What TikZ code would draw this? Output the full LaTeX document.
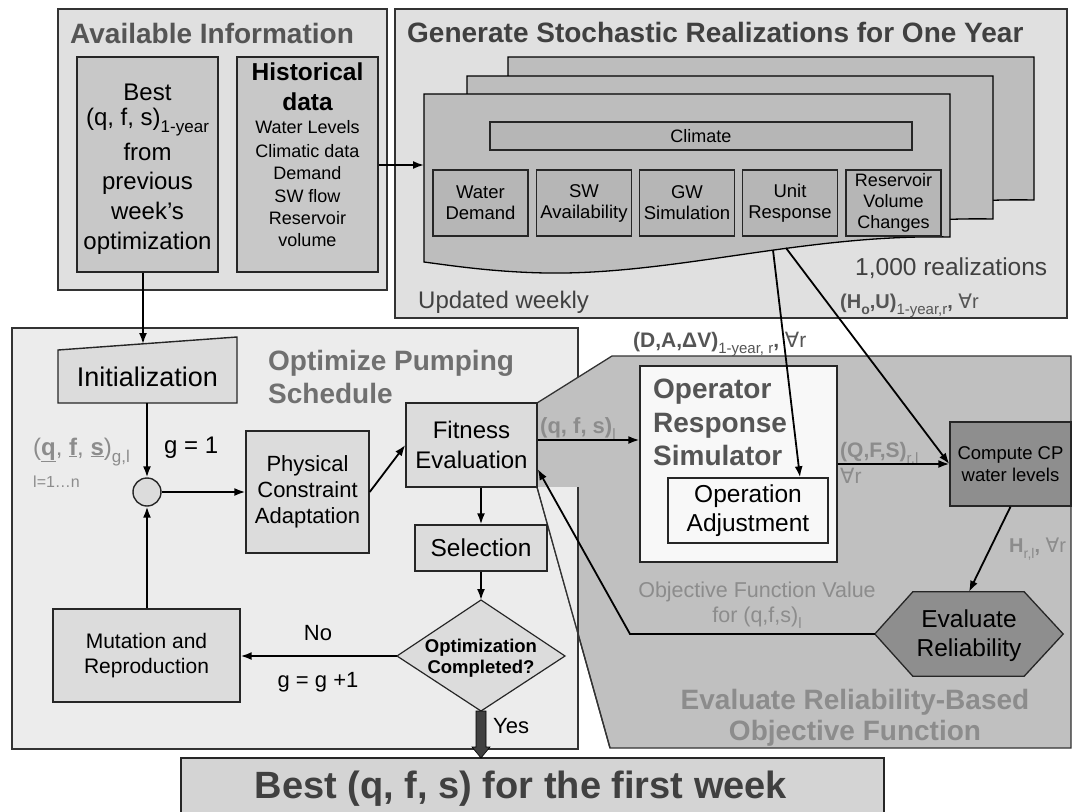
\documentclass[tikz,border=0pt]{standalone}
\usepackage{fontspec}
\setmainfont{Liberation Sans}
\newfontfamily\dv{DejaVu Sans}
\usetikzlibrary{arrows.meta}
\definecolor{pA}{HTML}{E0E0E0}
\definecolor{pO}{HTML}{ECECEC}
\definecolor{pE}{HTML}{C0C0C0}
\definecolor{bA}{HTML}{C8C8C8}
\definecolor{sheetc}{HTML}{BDBDBD}
\definecolor{sbox}{HTML}{B6B6B6}
\definecolor{lbox}{HTML}{DCDCDC}
\definecolor{wbox}{HTML}{F8F8F8}
\definecolor{dbox}{HTML}{8E8E8E}
\definecolor{fbox}{HTML}{D4D4D4}
\definecolor{tDark}{HTML}{404040}
\definecolor{tMid}{HTML}{555555}
\definecolor{tGray}{HTML}{707070}
\definecolor{tLight}{HTML}{8C8C8C}
\newcommand\fs[2]{\fontsize{#1pt}{#2pt}\selectfont}
\newcommand\sbs[2]{\raisebox{-0.3em}{\fontsize{#1pt}{#1pt}\selectfont #2}}
\begin{document}
\begin{tikzpicture}[x=1pt,y=-1pt,
  panel/.style={draw=black!80,line width=1.3pt},
  box/.style={draw=black!85,line width=1.4pt,inner sep=0pt,align=center},
  arr/.style={-{Latex[length=11pt,width=8pt]},line width=1.8pt},
  lbl/.style={inner sep=0pt,anchor=base west}]
\useasboundingbox (0,0) rectangle (1072,812);
\fill[white] (0,0) rectangle (1072,812);

% ---------- Available Information ----------
\draw[panel,fill=pA] (58,9) rectangle (387,290);
\node[lbl,text=tMid,font=\fs{28}{30}\bfseries] (tAvail) at (70,43) {Available Information};
\node[box,fill=bA,minimum width=141pt,minimum height=215pt] (best) at (147.5,164.5) {};
\begin{scope}[every node/.style={inner sep=0pt,anchor=base,font=\fs{24}{26}}]
\node (b1) at (147.5,100) {Best};
\node (b2) at (147.5,125) {(q, f, s)\sbs{17}{1-year}};
\node (b3) at (147.5,160) {from};
\node (b4) at (147.5,189) {previous};
\node (b5) at (147.5,219) {week’s};
\node (b6) at (147.5,249) {optimization};
\end{scope}
\node[box,fill=bA,minimum width=141pt,minimum height=215pt] (hist) at (307.5,164.5) {};
\begin{scope}[every node/.style={inner sep=0pt,anchor=base,font=\fs{18}{20}}]
\node[font=\fs{24.5}{26}\bfseries] (h1) at (307.5,80) {Historical};
\node[font=\fs{24.5}{26}\bfseries] (h2) at (307.5,110) {data};
\node (h3) at (307.5,133) {Water Levels};
\node (h4) at (307.5,157) {Climatic data};
\node (h5) at (307.5,179) {Demand};
\node (h6) at (307.5,202) {SW flow};
\node (h7) at (307.5,224) {Reservoir};
\node (h8) at (307.5,246) {volume};
\end{scope}

% ---------- Generate Stochastic Realizations ----------
\draw[panel,fill=pA] (395,9) rectangle (1067,318);
\node[lbl,text=tDark,font=\fs{28}{30}\bfseries] (tGen) at (407,42) {Generate Stochastic Realizations for One Year};
\foreach \dx/\dy in {84/-37,43/-18,0/0}{
  \draw[line width=1.3pt,fill=sheetc,shift={(424+\dx,94+\dy)}]
    (0,0) -- (526,0) -- (526,143) .. controls (380,140) and (250,181) .. (122,179)
    .. controls (70,178) and (30,172) .. (0,168) -- cycle;
}
\coordinate (frontL) at (424,165);
\coordinate (frontA) at (773,250);
\coordinate (frontB) at (786,248);
\node[box,fill=sbox,minimum width=422pt,minimum height=28pt,font=\fs{18}{20}] (clim) at (701,136) {Climate};
\begin{scope}[every node/.style={box,fill=sbox,minimum width=95pt,minimum height=66pt,font=\fs{18.5}{21}}]
\node (wd) at (480.5,203) {Water\\Demand};
\node (sw) at (584,203) {SW\\Availability};
\node (gw) at (687,203) {GW\\Simulation};
\node (ur) at (790,203) {Unit\\Response};
\node[font=\fs{18}{21}] (rv) at (893.5,203) {Reservoir\\Volume\\Changes};
\end{scope}
\node[lbl,text=tDark,font=\fs{24.5}{26}] (realz) at (855,275) {1,000 realizations};
\node[lbl,text=tDark,font=\fs{24}{26}] (upd) at (418,308) {Updated weekly};
\node[lbl,text=tMid,font=\fs{20}{22}\bfseries] (hou) at (840,308) {(H\sbs{14}{o},U)\sbs{15}{\mdseries 1-year,r}, {\mdseries\dv ∀}\mdseries r};

% ---------- Optimize panel ----------
\draw[panel,fill=pO] (12,328) rectangle (578,749);

% ---------- Evaluate panel ----------
\draw[panel,fill=pE] (612,356) -- (1071,356) -- (1071,748) -- (610,748) -- (537,487) -- (537,403) -- cycle;
% optimize panel shows in front below the fitness box
\fill[pO] (537.7,487) -- (577.3,487) -- (577.3,633) -- cycle;
\draw[line width=1.3pt,draw=black!80] (578,487) -- (578,749);
\draw[line width=1.3pt,draw=black!80] (537,487) -- (610,748);

\node[lbl,text=tGray,font=\fs{28}{30}\bfseries] (tOpt1) at (268,370) {Optimize Pumping};
\node[lbl,text=tGray,font=\fs{28}{30}\bfseries] (tOpt2) at (268,403) {Schedule};

% Initialization (manual input shape)
\node[inner sep=0pt,minimum width=179pt,minimum height=53pt] (init) at (147.5,376.5) {};
\draw[line width=1.4pt,draw=black!85,fill=lbox] (58,350) -- (237,337) -- (237,403) -- (58,403) -- cycle;
\node[inner sep=0pt,anchor=base,font=\fs{27}{29}] (initT) at (147.5,386) {Initialization};
\coordinate (initTop) at (143,344);

\node[lbl,text=tLight,font=\fs{24}{26}] (qfsg) at (33,455) {(\underline{\textbf{q}}, \underline{\textbf{f}}, \underline{\textbf{s}})\sbs{17}{g,l}};
\node[lbl,text=tLight,font=\fs{16}{18}] (lrng) at (33,487) {l=1…n};
\node[lbl,font=\fs{24}{26}] (g1) at (164,453) {g = 1};

\node[circle,draw=black!85,line width=1.4pt,fill=lbox,minimum size=28pt,inner sep=0pt] (cir) at (147,492) {};
\node[box,fill=lbox,minimum width=123pt,minimum height=122pt,font=\fs{22}{26}] (phys) at (307.5,492) {Physical\\Constraint\\Adaptation};
\node[box,fill=lbox,minimum width=131pt,minimum height=84pt,font=\fs{24}{30}] (fit) at (471.5,445) {Fitness\\Evaluation};
\node[box,fill=lbox,minimum width=132pt,minimum height=46pt,font=\fs{24.5}{26}] (sel) at (481,548) {Selection};

% diamond
\draw[line width=1.2pt,draw=black!85,fill=lbox] (481,600) -- (565,656) -- (481,711) -- (397,656) -- cycle;
\coordinate (diaT) at (481,600);
\coordinate (diaL) at (397,656);
\coordinate (diaB) at (481,711);
\node[inner sep=0pt,align=center,font=\fs{18.5}{21}\bfseries] (dia) at (481,658) {Optimization\\Completed?};

\node[box,fill=lbox,minimum width=187pt,minimum height=93pt,font=\fs{21}{25}] (mut) at (146.5,655.5) {Mutation and\\Reproduction};
\node[inner sep=0pt,font=\fs{22}{24}] (no) at (318,633) {No};
\node[inner sep=0pt,font=\fs{22}{24}] (gg) at (318,682) {g = g +1};
\node[lbl,font=\fs{22}{24}] (yes) at (493,733) {Yes};

% final box
\node[box,fill=fbox,minimum width=703pt,minimum height=62pt] (final) at (532.5,789) {};
\node[inner sep=0pt,anchor=base,text=tDark,font=\fs{38}{40}\bfseries] (finalT) at (521,798) {Best (q, f, s) for the first week};
\coordinate (finalTop) at (481,758);

% ---------- Evaluate contents ----------
\node[box,fill=wbox,minimum width=197pt,minimum height=196pt] (ors) at (738.5,464) {};
\begin{scope}[every node/.style={lbl,text=tMid,font=\fs{28}{30}\bfseries}]
\node (o1) at (653,398) {Operator};
\node (o2) at (653,432) {Response};
\node (o3) at (653,465) {Simulator};
\end{scope}
\node[box,fill=wbox,minimum width=160pt,minimum height=65pt,font=\fs{24.5}{29}] (oa) at (748,510.5) {Operation\\Adjustment};
\node[box,fill=dbox,minimum width=121pt,minimum height=84pt,font=\fs{18.5}{22}] (ccp) at (1010.5,464) {Compute CP\\water levels};
\node[inner sep=0pt,minimum width=188pt,minimum height=84pt] (hex) at (969,634) {};
\draw[line width=1.3pt,draw=black!85,fill=dbox] (hex.west) -- ([xshift=38pt]hex.north west) -- ([xshift=-39pt]hex.north east) -- (hex.east) -- ([xshift=-39pt]hex.south east) -- ([xshift=38pt]hex.south west) -- cycle;
\node[inner sep=0pt,align=center,font=\fs{24.5}{29}] (evr) at (969,636) {Evaluate\\Reliability};

\node[lbl,text=tLight,font=\fs{22}{24}\bfseries] (qfsl) at (540,433) {(q, f, s)\sbs{15}{\mdseries l}};
\node[lbl,text=tMid,font=\fs{21}{23}\bfseries] (dav) at (633,347) {(D,A,ΔV)\sbs{15}{\mdseries 1-year, r}, {\mdseries\dv ∀}\mdseries r};
\node[lbl,text=tLight,font=\fs{21}{23}\bfseries] (QFS) at (840,457) {(Q,F,S)\sbs{15}{\mdseries r,l}};
\node[lbl,text=tLight,font=\fs{21}{23}] (QFSr) at (840,483) {{\dv ∀}r};
\node[lbl,text=tLight,font=\fs{20}{22}\bfseries] (Hrl) at (1009,552) {H\sbs{14}{\mdseries r,l}, {\mdseries\dv ∀}\mdseries r};
\node[inner sep=0pt,anchor=base,text=tLight,font=\fs{21.5}{24}] (ofv1) at (757,597) {Objective Function Value};
\node[inner sep=0pt,anchor=base,text=tLight,font=\fs{21.5}{24}] (ofv2) at (757,622) {for (q,f,s)\sbs{15}{l}};
\node[inner sep=0pt,anchor=base,text=tLight,font=\fs{28}{30}\bfseries] (tEv1) at (855,709) {Evaluate Reliability-Based};
\node[inner sep=0pt,anchor=base,text=tLight,font=\fs{28}{30}\bfseries] (tEv2) at (855,740) {Objective Function};

% ---------- connectors ----------
\draw[arr] (hist.east |- frontL) -- (frontL);
\draw[arr] (best.south -| initTop) -- (initTop);
\draw[arr] (init.south -| cir) -- (cir.north);
\draw[arr] (mut.north -| cir) -- (cir.south);
\draw[arr] (cir.east) -- (phys.west);
\draw[arr] (phys.east) -- (fit.west);
\draw[arr] (fit.south -| sel) -- (sel.north);
\draw[arr] (sel.south) -- (diaT);
\draw[arr] (diaL) -- (mut.east |- diaL);
\coordinate (qfsy) at (537,440);
\draw[arr] (fit.east |- qfsy) -- (ors.west |- qfsy);
\draw[arr] (frontA) -- ([xshift=52pt]oa.north);
\draw[arr] (frontB) -- (ccp.west);
\draw[arr] (ors.east) -- (ccp.west);
\draw[arr] (ccp.south) -- (hex.north);
\coordinate (fbk) at (630,634);
\draw[arr] (hex.west) -- (fbk) -- ([yshift=-24pt]fit.east);
% Yes arrow (thick)
\fill[tDark,draw=black,line width=0.6pt] ([xshift=-5pt]diaB) -- ([xshift=5pt]diaB) -- ([xshift=5pt,yshift=11pt]finalTop) -- ([xshift=9pt,yshift=11pt]finalTop) -- (finalTop) -- ([xshift=-9pt,yshift=11pt]finalTop) -- ([xshift=-5pt,yshift=11pt]finalTop) -- cycle;
\end{tikzpicture}
\end{document}
